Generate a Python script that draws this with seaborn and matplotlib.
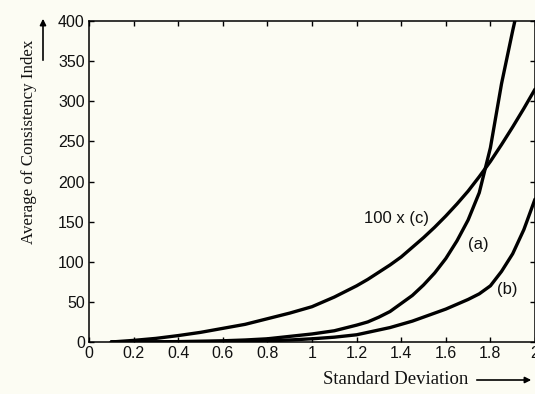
import numpy as np
import pandas as pd
import matplotlib
matplotlib.use('Agg')
import matplotlib.pyplot as plt
import seaborn as sns

# values
sd_c = [0.1, 0.2, 0.3, 0.4, 0.5, 0.6, 0.7, 0.8, 0.9, 1.0, 1.1, 1.2, 1.25, 1.3, 1.35, 1.4, 1.45, 1.5,
        1.55, 1.6, 1.65, 1.7, 1.75, 1.8, 1.85, 1.9, 1.95, 2.0]
ci_c = [0, 2, 4.5, 8, 12, 17, 22, 29, 36, 44, 56, 70, 78, 87, 96, 106, 118, 130,
        143, 157, 172, 188, 206, 225, 246, 268, 291, 315]

sd_a = [0.1, 0.2, 0.3, 0.4, 0.5, 0.6, 0.7, 0.8, 0.9, 1.0, 1.1, 1.2, 1.25, 1.3, 1.35, 1.4, 1.45, 1.5,
        1.55, 1.6, 1.65, 1.7, 1.75, 1.8, 1.85, 1.9, 1.95]
ci_a = [0, 0, 0.2, 0.5, 1, 1.5, 2.5, 4, 7, 10, 14, 21, 25, 31, 38, 48, 58, 71,
        86, 104, 126, 152, 186, 242, 322, 388, 450]

sd_b = [0.1, 0.2, 0.3, 0.4, 0.5, 0.6, 0.7, 0.8, 0.9, 1.0, 1.1, 1.2, 1.25, 1.3, 1.35, 1.4, 1.45, 1.5,
        1.55, 1.6, 1.65, 1.7, 1.75, 1.8, 1.85, 1.9, 1.95, 2.0]
ci_b = [0, 0, 0.1, 0.2, 0.3, 0.6, 1, 1.6, 2.5, 4, 6, 9, 12, 15, 18, 22, 26, 31,
        36, 41, 47, 53, 60, 70, 88, 110, 140, 178]

x_ticks = [0, 0.2, 0.4, 0.6, 0.8, 1, 1.2, 1.4, 1.6, 1.8, 2]
x_labels = ['0', '0.2', '0.4', '0.6', '0.8', '1', '1.2', '1.4', '1.6', '1.8', '2']
y_ticks = [0, 50, 100, 150, 200, 250, 300, 350, 400]

sns.set_theme(style='ticks')
plt.rcParams['font.family'] = ['Liberation Sans', 'DejaVu Sans']

bg = '#fcfcf3'
fig = plt.figure(figsize=(5.35, 3.94), dpi=100, facecolor=bg)
ax = fig.add_axes([89 / 535, 52 / 394, 446 / 535, 321 / 394])
ax.set_facecolor(bg)

for xs, ys in [(sd_c, ci_c), (sd_a, ci_a), (sd_b, ci_b)]:
    df = pd.DataFrame({'sd': xs, 'ci': ys})
    sns.lineplot(data=df, x='sd', y='ci', ax=ax, color='black', linewidth=2.4)

ax.set_xlim(0, 2)
ax.set_ylim(0, 400)
ax.set_xticks(x_ticks)
ax.set_xticklabels(x_labels)
ax.set_yticks(y_ticks)
ax.tick_params(direction='in', length=3.5, width=1, colors='black',
               labelsize=11.5, labelcolor='#111111', top=True, right=True, pad=3)
for s in ax.spines.values():
    s.set_color('black')
    s.set_linewidth(1.1)

ax.set_xlabel('')
ax.set_ylabel('')

# curve labels
ax.text(1.38, 154, '100 x (c)', fontsize=12, color='#111111', ha='center', va='center')
ax.text(1.745, 121, '(a)', fontsize=12, color='#111111', ha='center', va='center')
ax.text(1.874, 66, '(b)', fontsize=12, color='#111111', ha='center', va='center')

# axis titles with arrows
fig.text(396 / 535, 1 - 379 / 394, 'Standard Deviation', family='Liberation Serif',
         fontsize=13.5, ha='center', va='center', color='#111111')
fig.text(29.5 / 535, 1 - 142 / 394, 'Average of Consistency Index', family='Liberation Serif',
         fontsize=12.2, ha='center', va='center', rotation=90, color='#111111')
fig.add_artist(matplotlib.patches.FancyArrowPatch(
    (474 / 535, 1 - 380 / 394), (534 / 535, 1 - 380 / 394), transform=fig.transFigure,
    arrowstyle='-|>', mutation_scale=9, color='black', linewidth=1.2))
fig.add_artist(matplotlib.patches.FancyArrowPatch(
    (43 / 535, 1 - 63 / 394), (43 / 535, 1 - 16 / 394), transform=fig.transFigure,
    arrowstyle='-|>', mutation_scale=9, color='black', linewidth=1.2))

fig.savefig('out.png', dpi=100, facecolor=bg)
